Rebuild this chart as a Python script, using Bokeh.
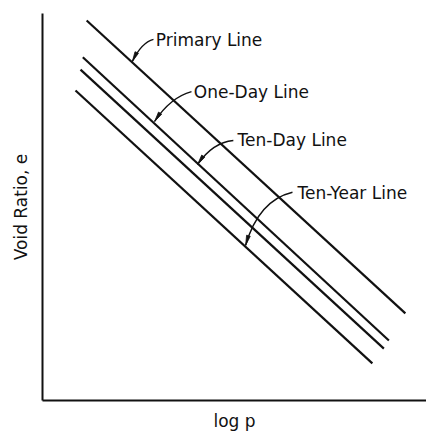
import numpy as np
from bokeh.plotting import figure
from bokeh.models import FixedTicker, ColumnDataSource
from bokeh.embed import file_html
from bokeh.resources import INLINE
from bokeh.core.properties import value

# Schematic compression lines: void ratio e against log p (arbitrary units)
line_names = ["Primary Line", "One-Day Line", "Ten-Day Line", "Ten-Year Line"]
logp_start = [1.15, 1.05, 0.99, 0.86]
logp_end = [9.45, 9.02, 8.89, 8.59]
e_start = [9.82, 8.87, 8.55, 8.01]
e_end = [2.25, 1.55, 1.34, 0.96]

# Callout text anchors (left edge, vertical middle)
label_x = [2.95, 3.94, 5.08, 6.64]
label_y = [9.31, 7.96, 6.72, 5.37]

# Leader curves: start beside the text, bend down onto the line
leader_x0 = [2.89, 3.88, 4.97, 6.51]
leader_y0 = [9.33, 7.98, 6.72, 5.38]
leader_cx = [2.58, 3.33, 4.43, 5.63]
leader_cy = [9.25, 7.83, 6.67, 5.17]
leader_x1 = [2.34, 2.92, 4.04, 5.29]
leader_y1 = [8.76, 7.21, 6.10, 4.01]

X_RANGE = (0, 10)
Y_RANGE = (0, 10)
W, H = 426, 433
LEFT, RIGHT, TOP, BOTTOM = 42, 0, 13, 33
FONT = "DejaVu Sans"
INK = "#111111"

p = figure(width=W, height=H, x_range=X_RANGE, y_range=Y_RANGE,
           output_backend="svg", toolbar_location=None,
           min_border_left=LEFT, min_border_right=RIGHT,
           min_border_top=TOP, min_border_bottom=BOTTOM)
p.grid.visible = False
p.outline_line_color = None
p.background_fill_color = "white"
p.border_fill_color = "white"

for ax in (p.xaxis, p.yaxis):
    ax.ticker = FixedTicker(ticks=[])
    ax.axis_line_width = 2
    ax.axis_line_color = INK
    ax.major_tick_line_color = None
    ax.minor_tick_line_color = None
    ax.major_tick_in = 0
    ax.major_tick_out = 0
    ax.major_label_standoff = 0
    ax.major_label_text_font_size = "0px"
    ax.axis_label_text_font = FONT
    ax.axis_label_text_font_size = "17px"
    ax.axis_label_text_font_style = "normal"
    ax.axis_label_text_color = INK

p.yaxis.axis_label = "Void Ratio, e"
p.yaxis.axis_label_standoff = 12
p.xaxis.axis_label = "log p"
p.xaxis.axis_label_standoff = 10

# the four parallel lines
p.segment(x0=logp_start, y0=e_start, x1=logp_end, y1=e_end,
          line_color=INK, line_width=2.2)

# leader curves
p.quadratic(x0=leader_x0, y0=leader_y0, x1=leader_x1, y1=leader_y1,
            cx=leader_cx, cy=leader_cy, line_color=INK, line_width=1.4)

# slender arrowheads along each curve's end tangent
sx = (W - LEFT - RIGHT) / (X_RANGE[1] - X_RANGE[0])
sy = (H - TOP - BOTTOM) / (Y_RANGE[1] - Y_RANGE[0])
ex, ey = np.array(leader_x1), np.array(leader_y1)
dx = (ex - np.array(leader_cx)) * sx
dy = (ey - np.array(leader_cy)) * sy
norm = np.hypot(dx, dy)
ux, uy = dx / norm, dy / norm
head_len, head_half = 10.0, 1.9
bx, by = ex - ux * head_len / sx, ey - uy * head_len / sy
xs, ys = [], []
for i in range(len(ex)):
    nx, ny = -uy[i], ux[i]
    xs.append([ex[i], bx[i] + nx * head_half / sx, bx[i] - nx * head_half / sx])
    ys.append([ey[i], by[i] + ny * head_half / sy, by[i] - ny * head_half / sy])
p.patches(xs=xs, ys=ys, fill_color=INK, line_color=INK, line_width=0.8)

# callout texts
src = ColumnDataSource(dict(x=label_x, y=label_y, t=line_names))
p.text(x="x", y="y", text="t", source=src, text_font=value(FONT),
       text_font_size="17px", text_color=INK,
       text_align="left", text_baseline="middle")

open("out.html", "w").write(file_html(p, INLINE))
